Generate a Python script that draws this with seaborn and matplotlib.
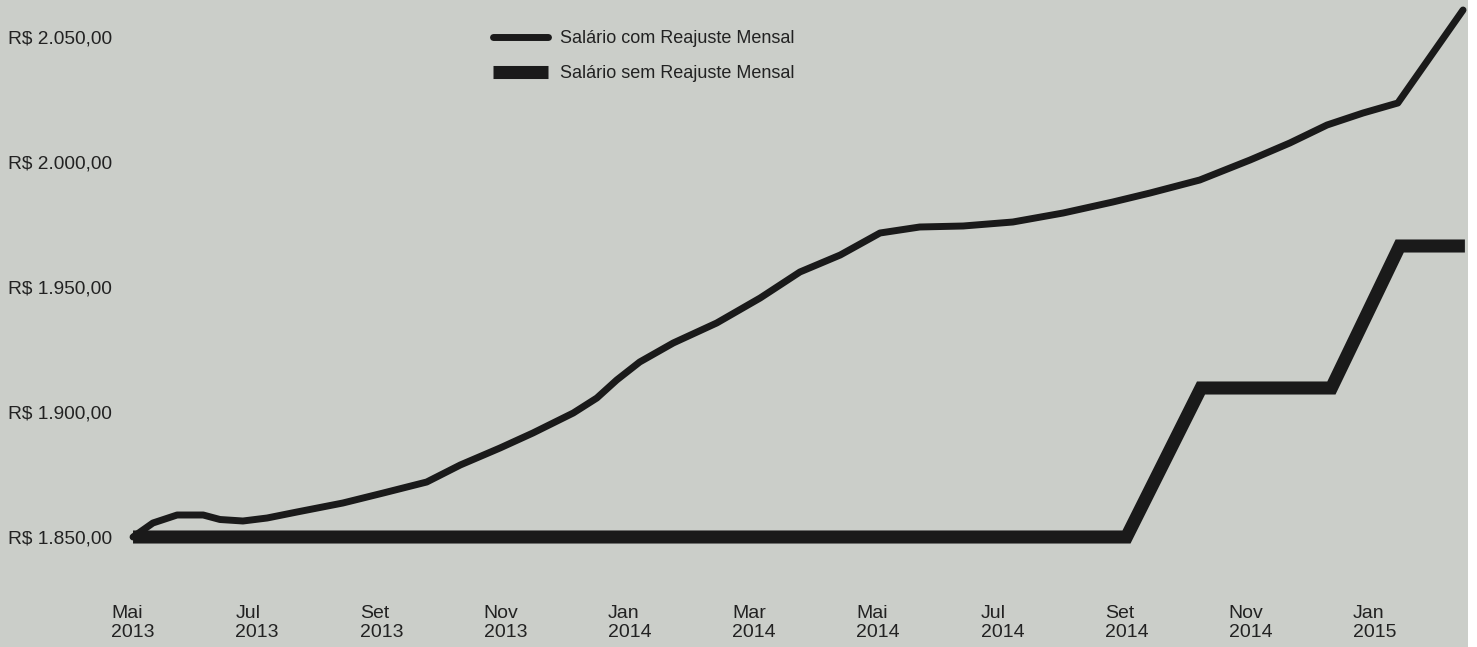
import pandas as pd
import matplotlib
matplotlib.use("Agg")
import matplotlib.pyplot as plt
import seaborn as sns
from matplotlib.patches import Rectangle

# meses contados a partir de Mai/2013 (0 = Mai 2013)
mes_com = [0.0, 0.32, 0.71, 1.13, 1.4, 1.77, 2.16, 2.64, 3.38, 4.03, 4.73, 5.27,
           5.91, 6.44, 7.09, 7.47, 7.79, 8.16, 8.7, 9.4, 10.1, 10.74, 11.39,
           12.03, 12.67, 13.37, 14.17, 14.98, 15.78, 16.38, 17.18, 17.99,
           18.63, 19.23, 19.81, 20.37, 21.42]
salario_com = [1850.0, 1855.6, 1858.8, 1858.8, 1857.0, 1856.4, 1857.6, 1860.0,
               1863.6, 1867.6, 1872.0, 1878.8, 1885.6, 1891.6, 1899.6, 1905.6,
               1912.8, 1920.0, 1927.6, 1935.6, 1945.6, 1956.0, 1962.8, 1971.6,
               1974.0, 1974.4, 1976.0, 1979.6, 1984.0, 1987.6, 1992.8, 2000.8,
               2007.6, 2014.8, 2019.6, 2023.6, 2060.8]

mes_sem = [0.0, 16.0, 17.2, 19.3, 20.4, 21.45]
salario_sem = [1850.0, 1850.0, 1909.6, 1909.6, 1966.4, 1966.4]

tick_meses = [0, 2, 4, 6, 8, 10, 12, 14, 16, 18, 20]
tick_labels = ["Mai\n2013", "Jul\n2013", "Set\n2013", "Nov\n2013", "Jan\n2014",
               "Mar\n2014", "Mai\n2014", "Jul\n2014", "Set\n2014", "Nov\n2014",
               "Jan\n2015"]
y_ticks = [1850, 1900, 1950, 2000, 2050]
y_labels = ["R$ 1.850,00", "R$ 1.900,00", "R$ 1.950,00", "R$ 2.000,00", "R$ 2.050,00"]

fundo = "#cbcec9"
sns.set_theme(style="white", rc={"axes.facecolor": fundo, "figure.facecolor": fundo})
plt.rcParams["font.family"] = ["Liberation Sans", "DejaVu Sans"]

df_com = pd.DataFrame({"mes": mes_com, "salario": salario_com})
df_sem = pd.DataFrame({"mes": mes_sem, "salario": salario_sem})

W, H = 1477, 647
fig = plt.figure(figsize=(W / 100, H / 100), dpi=100)
ax = fig.add_axes([120 / W, 47 / H, (1468 - 120) / W, 600 / H])

sns.lineplot(data=df_com, x="mes", y="salario", ax=ax, color="#1a1a1a", lw=5.0,
             label="Salário com Reajuste Mensal", solid_joinstyle="round")
sns.lineplot(data=df_sem, x="mes", y="salario", ax=ax, color="#1a1a1a", lw=9.4,
             label="Salário sem Reajuste Mensal", solid_joinstyle="miter",
             solid_capstyle="butt")

ax.set_xlim(-0.21, 21.5)
ax.set_ylim(1824.8, 2064.8)
ax.set_xlabel("")
ax.set_ylabel("")
for s in ax.spines.values():
    s.set_visible(False)

ax.set_xticks(tick_meses)
ax.set_xticklabels(tick_labels, fontsize=14, color="#222222", linespacing=1.15,
                   multialignment="left")
ax.set_yticks(y_ticks)
ax.set_yticklabels(y_labels, fontsize=13.8, color="#222222")
for t in ax.get_yticklabels():
    t.set_horizontalalignment("left")
ax.tick_params(axis="y", length=0, pad=80.6)
ax.tick_params(axis="x", length=0, pad=3.5)

leg = ax.legend(loc="upper left", bbox_to_anchor=(493 / W, 1 - 30 / H),
                bbox_transform=fig.transFigure, frameon=False, fontsize=13,
                handlelength=3.05, handletextpad=0.65, labelspacing=1.02,
                borderpad=0, borderaxespad=0)
for t in leg.get_texts():
    t.set_color("#222222")

# faixa branca na borda direita
fig.patches.append(Rectangle((1468 / W, 0), 1 - 1468 / W, 1, transform=fig.transFigure,
                             facecolor="white", edgecolor="none", zorder=1))

fig.savefig("out.png", dpi=100, facecolor=fundo)
